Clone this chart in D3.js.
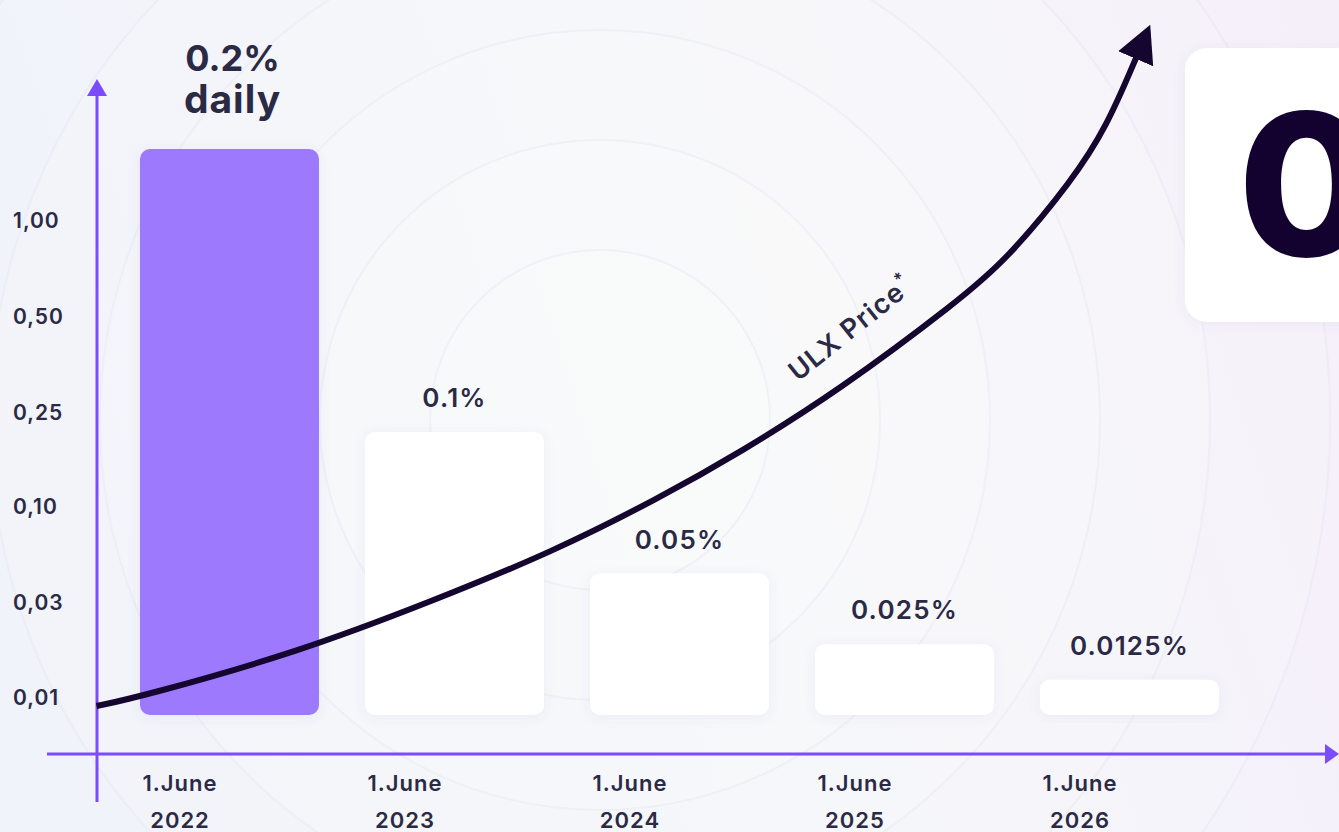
<!DOCTYPE html>
<html>
<head>
<meta charset="utf-8">
<script src="https://cdn.jsdelivr.net/npm/d3@7"></script>
<style>
  html, body { margin: 0; padding: 0; overflow: hidden; background: #eef1f9; }
  svg { display: block; font-family: Inter, "Open Sans", sans-serif; }
</style>
</head>
<body>
<svg id="chart"></svg>
<script>
// reward rate per year (percent daily)
var years = ["2022", "2023", "2024", "2025", "2026"];
var rates = [0.2, 0.1, 0.05, 0.025, 0.0125];
var rateLabels = ["0.2%", "0.1%", "0.05%", "0.025%", "0.0125%"];

// ULX price axis ticks
var priceTicks = [0.01, 0.03, 0.10, 0.25, 0.50, 1.00];

// ULX price curve (year, price)
var curveYears  = [2021.409, 2021.6, 2022.311, 2022.902, 2023.436, 2023.911, 2024.267, 2024.711, 2025.244, 2025.453, 2025.747, 2025.898, 2026.031];
var curvePrices = [0.0081, 0.010, 0.0195, 0.0307, 0.0665, 0.113, 0.185, 0.307, 0.583, 0.792, 1.208, 1.484, 1.849];

var W = 1339, H = 832;
var textColor = "#2b2a45", axisColor = "#7a4cfc";

var svg = d3.select("#chart").attr("width", W).attr("height", H);
var defs = svg.append("defs");

// background
var bg = defs.append("linearGradient").attr("id", "bg").attr("x1", 0).attr("x2", 1).attr("y1", 0.2).attr("y2", 0);
bg.append("stop").attr("offset", "0%").attr("stop-color", "#e9edf8");
bg.append("stop").attr("offset", "55%").attr("stop-color", "#f0f1fa");
bg.append("stop").attr("offset", "100%").attr("stop-color", "#f3eafa");
svg.append("rect").attr("width", W).attr("height", H).attr("fill", "url(#bg)");

var rings = [1000, 860, 730, 610, 500, 390, 280, 170];
svg.append("g").selectAll("circle")
    .data(rings)
    .enter()
    .append("circle")
    .attr("cx", 600)
    .attr("cy", 420)
    .attr("r", function (d) { return d; })
    .attr("fill", "#ffffff")
    .attr("fill-opacity", 0.15)
    .attr("stroke", "#e2e2f1")
    .attr("stroke-opacity", 0.35)
    .attr("stroke-width", 2);

var shadow = defs.append("filter").attr("id", "shadow").attr("x", "-20%").attr("y", "-20%").attr("width", "140%").attr("height", "140%");
shadow.append("feDropShadow").attr("dx", 0).attr("dy", 2).attr("stdDeviation", 6)
    .attr("flood-color", "#6a5aa8").attr("flood-opacity", 0.08);

// scales
var x = d3.scaleBand().domain(years).range([117, 1242]).paddingInner(0.2044).paddingOuter(0.1022);
var xYear = d3.scaleLinear().domain([2022, 2023])
    .range([x("2022") + x.bandwidth() / 2, x("2023") + x.bandwidth() / 2]);
var yRate = d3.scaleLinear().domain([0, 0.2]).range([715, 149]);
var yPrice = d3.scaleLinear().domain(priceTicks).range([697, 602, 506, 412, 316, 220]);

// right hand card
svg.append("rect")
    .attr("x", 1185).attr("y", 48).attr("width", 220).attr("height", 274)
    .attr("rx", 22).attr("fill", "#ffffff").attr("filter", "url(#shadow)");
svg.append("text")
    .attr("x", 1238).attr("y", 256)
    .style("font-family", "Inter, sans-serif")
    .style("font-weight", 800)
    .style("font-size", "198px")
    .style("fill", "#13022f")
    .text("0");

// bars
svg.append("g").selectAll("rect")
    .data(rates)
    .enter()
    .append("rect")
    .attr("x", function (d, i) { return x(years[i]); })
    .attr("y", function (d) { return yRate(d); })
    .attr("width", x.bandwidth())
    .attr("height", function (d) { return yRate(0) - yRate(d); })
    .attr("rx", 10)
    .attr("fill", function (d, i) { return i === 0 ? "#9d79fe" : "#ffffff"; })
    .attr("filter", "url(#shadow)");

// bar labels
svg.append("g").selectAll("text")
    .data(rates.slice(1))
    .enter()
    .append("text")
    .attr("x", function (d, i) { return x(years[i + 1]) + x.bandwidth() / 2; })
    .attr("y", function (d) { return yRate(d) - 25; })
    .attr("text-anchor", "middle")
    .style("font-size", "26px")
    .style("font-weight", 600)
    .style("letter-spacing", "1.2px")
    .style("fill", textColor)
    .text(function (d, i) { return rateLabels[i + 1]; });

var cx0 = x(years[0]) + x.bandwidth() / 2 + 3;
svg.append("text")
    .attr("x", cx0).attr("y", yRate(rates[0]) - 78)
    .attr("text-anchor", "middle")
    .style("font-size", "36px")
    .style("font-weight", 700)
    .style("fill", textColor)
    .text(rateLabels[0]);
svg.append("text")
    .attr("x", cx0).attr("y", yRate(rates[0]) - 36)
    .attr("text-anchor", "middle")
    .style("font-size", "39px")
    .style("font-weight", 700)
    .style("letter-spacing", "1px")
    .style("fill", textColor)
    .text("daily");

// axes
var axes = svg.append("g").attr("stroke", axisColor).attr("stroke-width", 3).attr("fill", "none");
axes.append("line").attr("x1", 97).attr("x2", 97).attr("y1", 92).attr("y2", 802);
axes.append("line").attr("x1", 47).attr("x2", 1328).attr("y1", 754).attr("y2", 754);
svg.append("path").attr("d", "M97,79 L107,96 L87,96 Z").attr("fill", axisColor);
svg.append("path").attr("d", "M1339,754 L1325,744 L1325,764 Z").attr("fill", axisColor);

// price ticks
var yAxis = svg.append("g")
    .attr("transform", "translate(97,0)")
    .call(d3.axisLeft(yPrice).tickValues(priceTicks).tickSize(0)
        .tickFormat(function (d) { return d3.format(".2f")(d).replace(".", ","); }));
yAxis.select(".domain").remove();
yAxis.selectAll("text")
    .attr("x", -84)
    .attr("dy", "0.35em")
    .attr("text-anchor", "start")
    .style("font-family", "Inter, sans-serif")
    .style("font-size", "21px")
    .style("font-weight", 600)
    .style("letter-spacing", "1px")
    .style("fill", textColor);

// x labels
var xl = svg.append("g").selectAll("text")
    .data(years)
    .enter()
    .append("text")
    .attr("text-anchor", "middle")
    .style("font-size", "22px")
    .style("font-weight", 600)
    .style("letter-spacing", "1px")
    .style("fill", textColor);
xl.append("tspan").attr("x", function (d) { return x(d) + 40; }).attr("y", 791).text("1.June");
xl.append("tspan").attr("x", function (d) { return x(d) + 40; }).attr("y", 828).text(function (d) { return d; });

// price curve
defs.append("marker")
    .attr("id", "arrow")
    .attr("markerUnits", "userSpaceOnUse")
    .attr("viewBox", "0 -20 38 40")
    .attr("refX", 2).attr("refY", 0)
    .attr("markerWidth", 38).attr("markerHeight", 40)
    .attr("orient", "auto")
    .append("path")
    .attr("d", "M0,-19 L37,0 L0,19 Z")
    .attr("fill", "#14062e");

var line = d3.line()
    .x(function (d) { return xYear(d[0]); })
    .y(function (d) { return yPrice(d[1]); })
    .curve(d3.curveBasis);

svg.append("path")
    .datum(d3.zip(curveYears, curvePrices))
    .attr("d", line)
    .attr("fill", "none")
    .attr("stroke", "#14062e")
    .attr("stroke-width", 6)
    .attr("marker-end", "url(#arrow)");

var lbl = svg.append("text")
    .attr("transform", "translate(798,382) rotate(-38.5)")
    .style("font-size", "27px")
    .style("font-weight", 600)
    .style("letter-spacing", "1.2px")
    .style("fill", textColor);
lbl.append("tspan").text("ULX Price");
lbl.append("tspan").attr("dy", -12).style("font-size", "17px").text("*");
</script>
</body>
</html>
